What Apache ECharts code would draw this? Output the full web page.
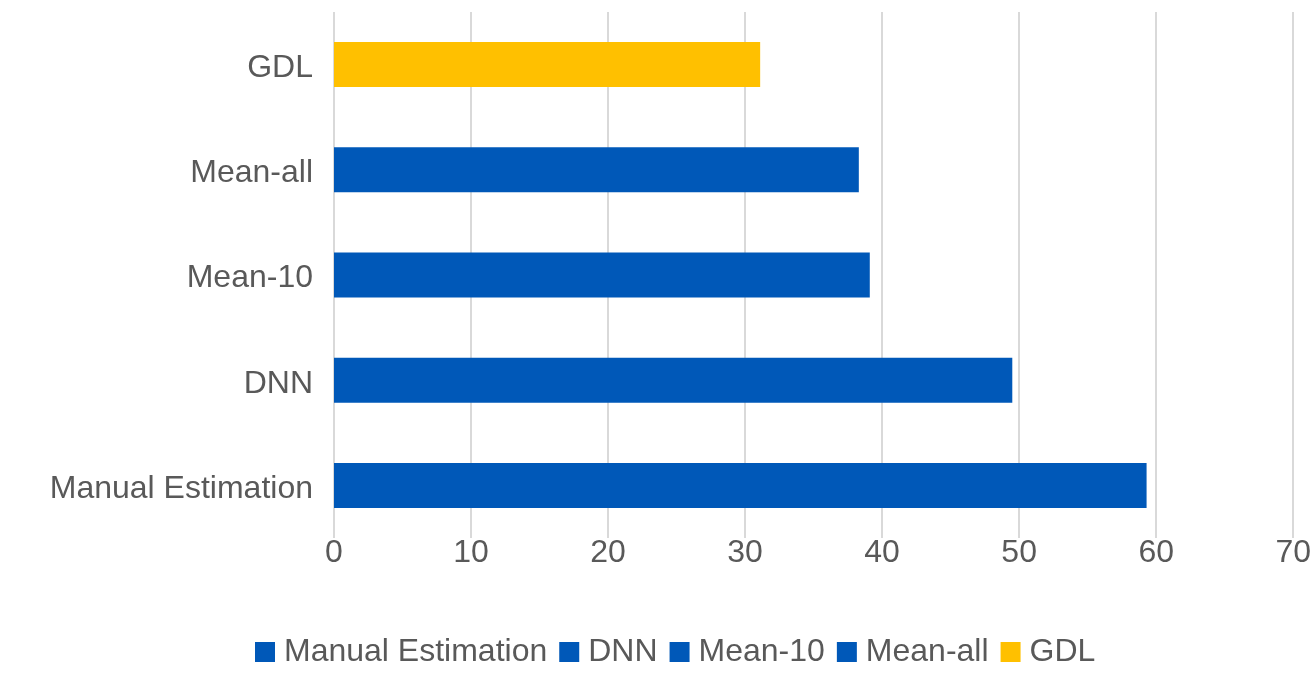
<!DOCTYPE html>
<html>
<head>
<meta charset="utf-8">
<script src="https://cdn.jsdelivr.net/npm/echarts@6/dist/echarts.min.js"></script>
<style>
  html, body { margin: 0; padding: 0; background: #fff; }
  #chart { width: 1314px; height: 673px; }
</style>
</head>
<body>
<div id="chart"></div>
<script>
// methods, bottom to top
const methods = ['Manual Estimation', 'DNN', 'Mean-10', 'Mean-all', 'GDL']
const values = [59.3, 49.5, 39.1, 38.3, 31.1]
const colors = ['#0058B8', '#0058B8', '#0058B8', '#0058B8', '#FFC000']
const xTicks = [0, 10, 20, 30, 40, 50, 60, 70]

const chart = echarts.init(document.getElementById('chart'))

// one series per method so that each gets a legend entry
const series = methods.map((name, i) => ({
  name: name,
  type: 'bar',
  stack: 'one',
  barWidth: 45,
  itemStyle: { color: colors[i] },
  data: methods.map((m, j) => (j === i ? values[i] : '-'))
}))

chart.setOption({
  animation: false,
  textStyle: { fontFamily: '"Liberation Sans", Arial, sans-serif' },
  grid: { left: 334, right: 20, top: 12, bottom: 135 },
  legend: {
    bottom: 0,
    left: 250,
    itemWidth: 20,
    itemHeight: 20,
    itemGap: 12,
    icon: 'rect',
    textStyle: { fontSize: 32, color: '#595959', padding: [0, 0, 0, 4] },
    data: methods
  },
  xAxis: {
    type: 'value',
    min: xTicks[0],
    max: xTicks[xTicks.length - 1],
    interval: 10,
    axisLine: { show: false },
    axisTick: { show: false },
    axisLabel: { color: '#595959', fontSize: 32, margin: -1 },
    splitLine: { lineStyle: { color: '#D9D9D9', width: 2 } }
  },
  yAxis: {
    type: 'category',
    data: methods,
    axisLine: { show: false },
    axisTick: { show: false },
    axisLabel: {
      margin: 21,
      formatter: '{a|{value}}',
      rich: { a: { color: '#595959', fontSize: 32, padding: [7, 0, 0, 0] } }
    }
  },
  series: series
})
</script>
</body>
</html>
